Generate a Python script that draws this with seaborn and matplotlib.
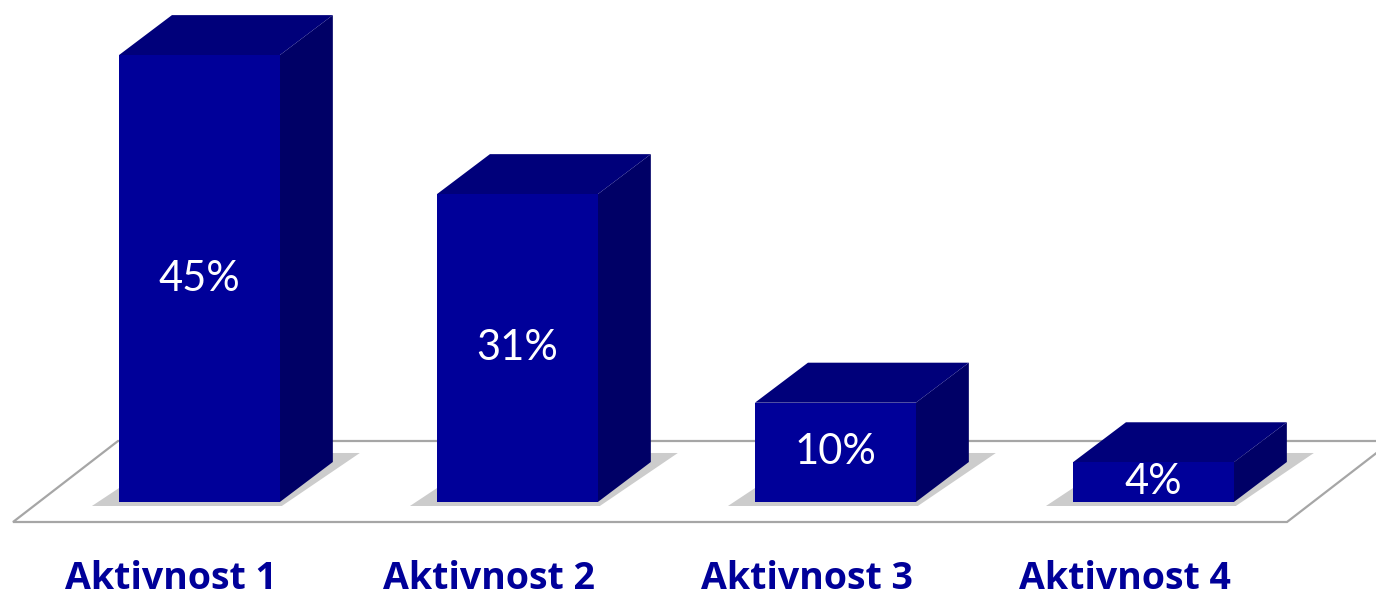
import numpy as np
import pandas as pd
import matplotlib
matplotlib.use('Agg')
import matplotlib.pyplot as plt
from matplotlib.patches import Polygon
import seaborn as sns

categories = ['Aktivnost 1', 'Aktivnost 2', 'Aktivnost 3', 'Aktivnost 4']
values = [45, 31, 10, 4]
value_labels = ['45%', '31%', '10%', '4%']

FRONT = '#000099'
TOP = '#00007a'
SIDE = '#000066'
LABEL_COLOR = '#000099'
FLOOR_EDGE = '#a6a6a6'
SHADOW = '#cccccc'

sns.set_theme(style='white')
plt.rcParams['font.family'] = ['Lato', 'DejaVu Sans']

W, H = 1376, 602
fig = plt.figure(figsize=(W / 100, H / 100), dpi=100)
ax = fig.add_axes([0, 0, 1, 1])

df = pd.DataFrame({'activity': categories, 'share': values})
sns.barplot(data=df, x='activity', y='share', color=FRONT, saturation=1,
            width=0.506, linewidth=0, ax=ax, zorder=3)

x0_lim, x1_lim = -0.627, 3.70
y0_lim, y1_lim = -10.07, 50.55
ax.set_xlim(x0_lim, x1_lim)
ax.set_ylim(y0_lim, y1_lim)
ax.set_axis_off()

# pixel -> data helpers
sx = W / (x1_lim - x0_lim)
sy = H / (y1_lim - y0_lim)


def dx(px):
    return px / sx


def dy(px):
    return px / sy


def ax_pt(px, py):
    # pixel from top-left -> axes fraction
    return (px / W, 1 - py / H)


# floor
floor = Polygon([ax_pt(13, 522), ax_pt(1287, 522), ax_pt(1392, 441), ax_pt(118, 441)],
                closed=True, transform=ax.transAxes, facecolor='white',
                edgecolor=FLOOR_EDGE, linewidth=1.6, zorder=0)
ax.add_patch(floor)

depth_x, depth_y = dx(53), dy(40)

for bar, lab, cat in zip(ax.patches, value_labels, categories):
    bx0 = bar.get_x()
    bx1 = bx0 + bar.get_width()
    h = bar.get_height()
    # shadow
    shadow = Polygon([(bx0 - dx(27), -dy(4)), (bx1 + dx(2), -dy(4)),
                      (bx1 + depth_x + dx(27), depth_y + dy(9)),
                      (bx0 + depth_x, depth_y + dy(9))],
                     closed=True, facecolor=SHADOW, edgecolor='none', zorder=1)
    ax.add_patch(shadow)
    # side face
    side = Polygon([(bx1, 0), (bx1 + depth_x, depth_y), (bx1 + depth_x, h + depth_y), (bx1, h)],
                   closed=True, facecolor=SIDE, edgecolor='none', zorder=2)
    ax.add_patch(side)
    # top face
    top = Polygon([(bx0, h), (bx1, h), (bx1 + depth_x, h + depth_y), (bx0 + depth_x, h + depth_y)],
                  closed=True, facecolor=TOP, edgecolor='none', zorder=2)
    ax.add_patch(top)
    cx = bx0 + bar.get_width() / 2
    ax.text(cx, h / 2, lab, ha='center', va='center', color='white',
            fontsize=30, zorder=5)
    ax.text(cx - dx(28), -dy(87), cat, ha='center', va='baseline',
            color=LABEL_COLOR, fontsize=27, fontweight='bold',
            family=['Open Sans', 'DejaVu Sans'], zorder=5)

fig.savefig('out.png', dpi=100, facecolor='white')
